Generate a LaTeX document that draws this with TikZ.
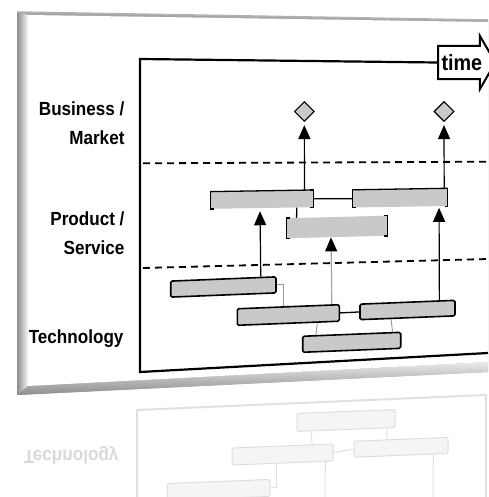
\documentclass[tikz,border=0pt]{standalone}
\usepackage{fontspec}
\newfontfamily\lanefont{Liberation Sans}[FakeStretch=0.9]
\usepackage{tikz}
\usetikzlibrary{positioning,arrows.meta,calc}
\usetikzlibrary{shapes.geometric,shapes.arrows}
\tikzset{
  rm_bar/.style = {rectangle, inner sep=0pt, fill=black!21},
  rm_prod/.style = {rm_bar, yslant=0.016},
  rm_tech/.style = {rm_bar, draw=black, line width=1.6pt,
    rounded corners=1.5pt, yslant=0.04},% technology bar
  rm_rbar/.style = {rectangle, inner sep=0pt, fill=black!4, draw=black!13,
    line width=1pt, rounded corners=1.5pt, yslant=0.04},% reflection
  rm_goal/.style = {diamond, draw=black, fill=black!21, line width=1.1pt,
    inner sep=0pt, minimum width=20pt, minimum height=20pt},
  rm_lane/.style = {align=right, anchor=base east,
    font=\lanefont\bfseries\fontsize{19}{29}\selectfont},
  rm_time/.style = {single arrow, draw=black, fill=white, line width=2pt,
    anchor=west, inner xsep=2.5pt, inner ysep=7.5pt,
    single arrow head extend=10pt, single arrow tip angle=120,
    font=\lanefont\bfseries\fontsize{22}{22}\selectfont},
  rm_up/.style = {-{Triangle[length=14pt,width=12pt,color=black]},
    line width=1.2pt},
  rm_brk/.style = {line width=1.3pt},
  rm_link/.style = {draw=black!40, line width=0.9pt},
  rm_sep/.style = {dash pattern=on 7pt off 5pt, line width=1.8pt},
  rm_rline/.style = {draw=black!12, line width=1pt}
}

\begin{document}
\begin{tikzpicture}[x=1pt,y=-1pt]
\useasboundingbox (0,0) rectangle (488,497);
% card
\fill[black!35] (17,12) -- (488,20) -- (488,372) -- (17,395) -- cycle;
\shade[left color=black!45, right color=black!3]
  (17,12) -- (28,15) -- (28,386) -- (17,395) -- cycle;
\shade[top color=black!8, bottom color=black!45]
  (17,395) -- (28,386) -- (488,362) -- (488,372) -- cycle;
\fill[white] (28,15) -- (488,22) -- (488,362) -- (28,386) -- cycle;
\draw[black!30, line width=1.5pt] (17,12) -- (488,20);

% reflection
\draw[rm_rline, line width=2pt] (137,497) -- (137,410) -- (486,395) -- (486,497);
\node[rm_rbar, minimum width=98pt, minimum height=18pt] (rt4) at (346,420.5) {};
\node[rm_rbar, minimum width=94pt, minimum height=16pt] (rt3) at (401,447.3) {};
\node[rm_rbar, minimum width=101pt, minimum height=17pt] (rt2) at (282.5,454.5) {};
\node[rm_rbar, minimum width=103pt, minimum height=17pt] (rt1) at (218.5,490) {};
\coordinate (rb2) at (325,497);
\coordinate (rb3) at (433,497);
\draw[rm_rline] ($(rt4.south west)!.15!(rt4.south east)$) -- ($(rt2.north west)!.79!(rt2.north east)$);
\draw[rm_rline] ($(rt4.south west)!.915!(rt4.south east)$) -- ($(rt3.north west)!.35!(rt3.north east)$);
\draw[rm_rline] (rt2.east) -- (rt3.west);
\draw[rm_rline] ($(rt2.south west)!.44!(rt2.south east)$) |- (rt1.east);
\draw[rm_rline] ($(rt2.south west)!.92!(rt2.south east)$) -- (rb2);
\draw[rm_rline] ($(rt3.south west)!.84!(rt3.south east)$) -- (rb3);
\node[rm_lane, yscale=-1, text=black!15] (rtech) at (122,450) {Technology};

% frame and lanes
\node[rm_time] (time) at (437,62.5) {time};
\coordinate (ftl) at (140,59);
\coordinate (fbl) at (140,372);
\coordinate (fbr) at (488,353);
\draw[line width=2.2pt] (time.west) -- (ftl) -- (fbl) -- (fbr);
\draw[rm_sep] (143,163.3) -- (488,161.7);
\draw[rm_sep] (143,268) -- (488,259);

\node[rm_lane] (bm) at (128,145) {Business /\\Market};
\node[rm_lane] (ps) at (128,254) {Product /\\Service};
\node[rm_lane] (tech) at (127,343) {Technology};

% goals
\node[rm_goal] (g1) at (304.3,111.5) {};
\node[rm_goal] (g2) at (444,111.5) {};

% products
\node[rm_prod, minimum width=102pt, minimum height=17pt] (p1) at (262,199.5) {};
\node[rm_prod, minimum width=94.6pt, minimum height=17.5pt] (p2) at (400,198) {};
\node[rm_prod, minimum width=100pt, minimum height=20pt, yslant=0.01] (p3) at (337,227) {};
\foreach \b in {p1,p2,p3}{
  \draw[rm_brk] ([xshift=3pt]\b.north west) -- (\b.north west)
    -- (\b.south west) -- ([xshift=3pt]\b.south west);
  \draw[rm_brk] ([xshift=-3pt]\b.north east) -- (\b.north east)
    -- (\b.south east) -- ([xshift=-3pt]\b.south east);
}
\draw[rm_brk] (p1.north west) -- (p1.north east);
\draw[rm_brk] (p2.north west) -- (p2.north east);
\draw[rm_brk] (p1.east) -- (p2.west);
\draw[rm_brk] ($(p1.south west)!.84!(p1.south east)$) -- ($(p3.north west)!.097!(p3.north east)$);

% technologies
\node[rm_tech, minimum width=105.3pt, minimum height=16pt] (t1) at (223.35,287) {};
\node[rm_tech, minimum width=102pt, minimum height=16.5pt] (t2) at (288.3,315) {};
\node[rm_tech, minimum width=95pt, minimum height=15.5pt] (t3) at (407.5,310) {};
\node[rm_tech, minimum width=98pt, minimum height=16pt] (t4) at (351.7,342.3) {};
\draw[rm_link] (t1.east) -| ($(t2.north west)!.45!(t2.north east)$);
\draw[rm_brk] (t2.east) -- (t3.west);
\draw[rm_link] ($(t2.south west)!.78!(t2.south east)$) -- ($(t4.north west)!.14!(t4.north east)$);
\draw[rm_link] ($(t3.south west)!.33!(t3.south east)$) -- ($(t4.north west)!.91!(t4.north east)$);

% links upwards
\draw[rm_up, shorten >=3pt] ($(p1.north west)!.915!(p1.north east)$) -- (g1.south);
\draw[rm_up, shorten >=3pt] ($(p2.north west)!.965!(p2.north east)$) -- (g2.south);
\draw[rm_up, shorten >=3pt] ($(t1.north west)!.85!(t1.north east)$) -- ($(p1.south west)!.48!(p1.south east)$);
\draw[rm_up, draw=black!35] ($(t2.north west)!.92!(t2.north east)$) -- ($(p3.south west)!.44!(p3.south east)$);
\draw[rm_up, shorten >=1.5pt] ($(t3.north west)!.83!(t3.north east)$) -- ($(p2.south west)!.911!(p2.south east)$);
\end{tikzpicture}
\end{document}
